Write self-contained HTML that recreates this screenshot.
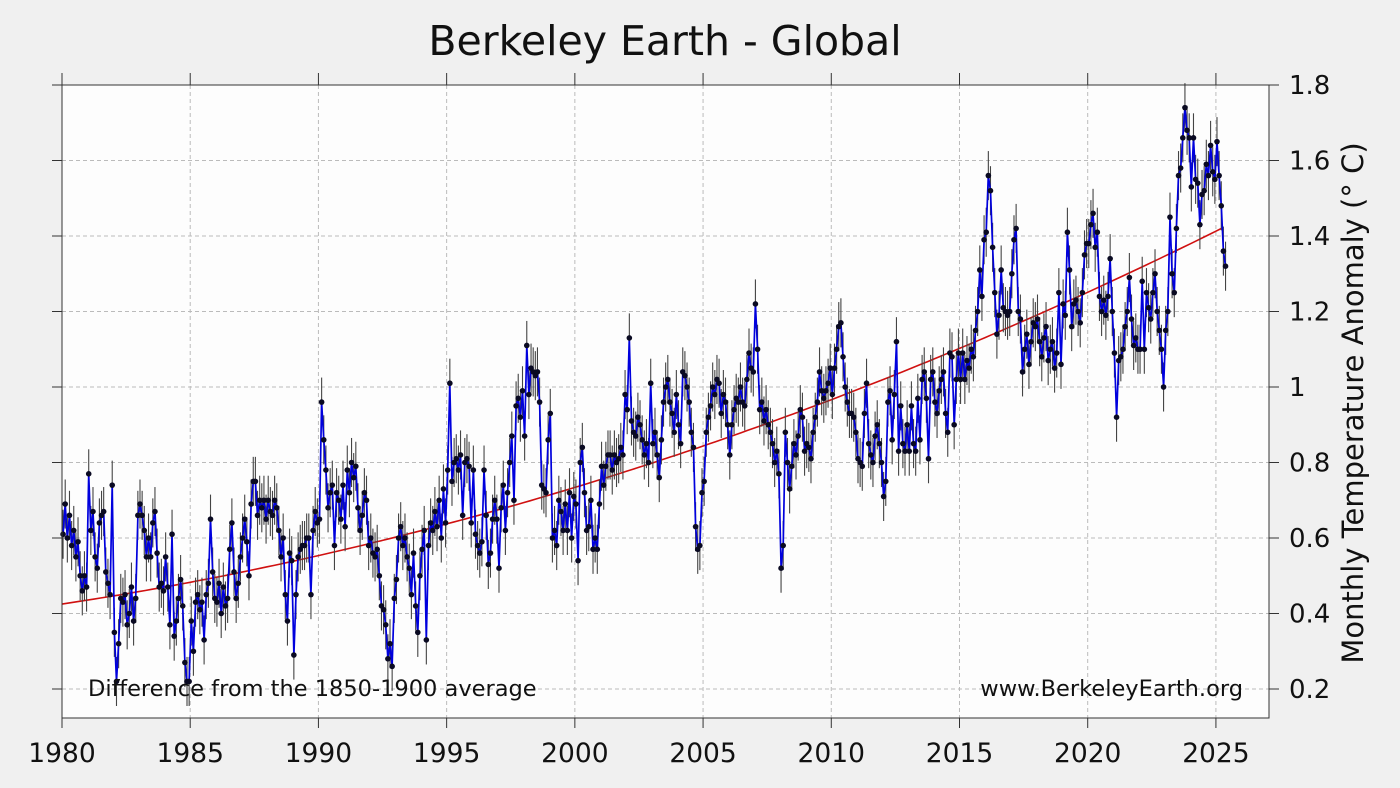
<!DOCTYPE html>
<html><head><meta charset="utf-8"><style>
html,body{margin:0;padding:0;background:#f0f0f0;}
svg{display:block;font-family:"DejaVu Sans","Liberation Sans",sans-serif;}
</style></head><body>
<svg id="chart" width="1400" height="788" viewBox="0 0 1400 788">
<rect x="0" y="0" width="1400" height="788" fill="#f0f0f0"/>
<text x="665" y="55" text-anchor="middle" font-size="41" fill="#111">Berkeley Earth - Global</text>
<rect x="62" y="85" width="1207" height="633" fill="#fdfdfd"/>
<g id="grid"></g>
<g id="trend"></g>
<g id="errs"></g>
<g id="series"></g>
<g id="axes"></g>
<text x="88" y="696" font-size="22.5" fill="#111">Difference from the 1850-1900 average</text>
<text x="1243" y="696" font-size="22.5" fill="#111" text-anchor="end">www.BerkeleyEarth.org</text>
<text transform="translate(1363,403) rotate(-90)" text-anchor="middle" font-size="29" fill="#111">Monthly Temperature Anomaly (° C)</text>
</svg>
<script>
const startYear = 1980;
const yearlyValues = [
[0.61,0.69,0.60,0.66,0.58,0.62,0.55,0.59,0.50,0.46,0.50,0.47],
[0.77,0.62,0.67,0.55,0.52,0.64,0.66,0.67,0.51,0.48,0.45,0.74],
[0.35,0.22,0.32,0.44,0.43,0.45,0.37,0.40,0.47,0.38,0.44,0.66],
[0.69,0.66,0.62,0.55,0.60,0.55,0.64,0.67,0.56,0.47,0.48,0.46],
[0.55,0.47,0.37,0.61,0.34,0.38,0.44,0.49,0.42,0.27,0.22,0.22],
[0.38,0.30,0.43,0.45,0.41,0.43,0.33,0.45,0.48,0.65,0.51,0.44],
[0.43,0.48,0.40,0.47,0.42,0.44,0.57,0.64,0.51,0.44,0.48,0.55],
[0.60,0.65,0.59,0.50,0.69,0.75,0.75,0.66,0.70,0.68,0.70,0.65],
[0.70,0.67,0.66,0.70,0.68,0.62,0.55,0.60,0.45,0.38,0.56,0.54],
[0.29,0.45,0.55,0.57,0.58,0.58,0.60,0.60,0.45,0.62,0.67,0.64],
[0.65,0.96,0.86,0.78,0.68,0.72,0.74,0.58,0.72,0.70,0.65,0.74],
[0.63,0.78,0.72,0.80,0.76,0.79,0.68,0.62,0.66,0.72,0.70,0.58],
[0.60,0.56,0.55,0.57,0.50,0.42,0.41,0.37,0.28,0.32,0.26,0.44],
[0.49,0.60,0.63,0.58,0.60,0.55,0.52,0.45,0.56,0.42,0.35,0.50],
[0.57,0.62,0.33,0.58,0.64,0.62,0.67,0.63,0.70,0.60,0.73,0.64],
[0.78,1.01,0.75,0.80,0.81,0.78,0.82,0.66,0.80,0.81,0.79,0.64],
[0.78,0.61,0.58,0.56,0.59,0.78,0.66,0.53,0.56,0.65,0.70,0.65],
[0.52,0.68,0.74,0.62,0.72,0.80,0.87,0.70,0.95,0.97,0.92,0.99],
[0.87,1.11,0.98,1.05,1.04,1.03,1.04,0.96,0.74,0.73,0.72,0.86],
[0.93,0.60,0.62,0.58,0.70,0.67,0.62,0.69,0.62,0.72,0.60,0.71],
[0.69,0.54,0.80,0.84,0.72,0.62,0.63,0.70,0.57,0.60,0.57,0.69],
[0.79,0.74,0.79,0.82,0.82,0.78,0.82,0.80,0.81,0.84,0.82,0.98],
[0.94,1.13,0.91,0.88,0.87,0.92,0.90,0.86,0.82,0.85,0.80,1.01],
[0.85,0.88,0.82,0.76,0.86,0.96,1.00,1.02,0.96,0.93,0.88,0.98],
[0.90,0.85,1.04,1.03,1.00,0.96,0.88,0.84,0.63,0.57,0.58,0.72],
[0.75,0.88,0.92,0.95,1.00,0.98,1.02,1.01,0.93,0.98,0.96,0.90],
[0.82,0.90,0.94,0.97,0.96,1.00,0.96,0.95,1.02,1.09,1.05,1.04],
[1.22,1.10,0.94,0.96,0.91,0.94,0.90,0.88,0.85,0.80,0.83,0.77],
[0.52,0.58,0.88,0.80,0.73,0.79,0.85,0.82,0.87,0.94,0.92,0.83],
[0.85,0.84,0.81,0.88,0.92,0.96,1.04,0.99,0.97,0.99,1.01,1.05],
[0.98,1.05,1.10,1.16,1.17,1.08,1.00,0.96,0.93,0.93,0.92,0.88],
[0.81,0.80,0.79,0.93,1.01,0.85,0.82,0.80,0.87,0.90,0.85,0.80],
[0.71,0.75,0.96,0.99,0.86,0.98,1.12,0.83,0.95,0.85,0.83,0.90],
[0.83,0.95,0.85,0.83,0.97,0.86,1.02,1.04,0.97,0.81,1.02,1.04],
[0.96,0.93,0.99,1.02,1.04,0.93,0.88,1.09,1.08,0.90,1.02,1.09],
[1.02,1.09,1.02,1.07,1.05,1.10,1.08,1.15,1.20,1.31,1.24,1.39],
[1.41,1.56,1.52,1.37,1.25,1.14,1.19,1.31,1.21,1.20,1.19,1.20],
[1.30,1.39,1.42,1.20,1.18,1.04,1.10,1.14,1.06,1.12,1.17,1.16],
[1.18,1.12,1.08,1.13,1.16,1.07,1.10,1.12,1.05,1.09,1.25,1.06],
[1.22,1.19,1.41,1.31,1.16,1.22,1.23,1.20,1.17,1.25,1.35,1.38],
[1.38,1.43,1.46,1.37,1.41,1.24,1.20,1.23,1.19,1.24,1.34,1.20],
[1.09,0.92,1.07,1.08,1.10,1.16,1.20,1.29,1.18,1.11,1.13,1.10],
[1.10,1.28,1.10,1.25,1.21,1.18,1.25,1.30,1.20,1.15,1.10,1.00],
[1.15,1.20,1.45,1.30,1.25,1.42,1.56,1.58,1.66,1.74,1.68,1.66],
[1.53,1.66,1.55,1.54,1.43,1.51,1.52,1.59,1.56,1.64,1.57,1.55],
[1.65,1.56,1.48,1.36,1.32]
];
const uncertainty = [0.065];
const trendCoefficients = [0.425, 0.01025, 0.00026];
const xTicks = [1980,1985,1990,1995,2000,2005,2010,2015,2020,2025];
const yTicks = [0.2,0.4,0.6,0.8,1,1.2,1.4,1.6,1.8];
const yTickLabels = ["0.2","0.4","0.6","0.8","1","1.2","1.4","1.6","1.8"];

const NS="http://www.w3.org/2000/svg";
const L=62,R=1269,T=85,B=718;
const X0=1980,X1=2027.07,Y0=0.1232,Y1=1.8;
const sx=v=>L+(v-X0)/(X1-X0)*(R-L);
const sy=v=>B-(v-Y0)/(Y1-Y0)*(B-T);
function mk(tag,attrs,parent){const e=document.createElementNS(NS,tag);for(const k in attrs)e.setAttribute(k,attrs[k]);parent.appendChild(e);return e;}
const grid=document.getElementById('grid'),axes=document.getElementById('axes');
xTicks.forEach(t=>{
  const g=mk('line',{x1:sx(t),x2:sx(t),y1:T,y2:B,stroke:'#bbb','stroke-dasharray':'4,3','stroke-width':1},grid);
  
  
  const tk=mk('line',{x1:sx(t),x2:sx(t),y1:B,y2:B+10,stroke:'#333'},axes);
  
  
  const tt=mk('line',{x1:sx(t),x2:sx(t),y1:T-12,y2:T,stroke:'#333'},axes);
  
  
  const lb=mk('text',{x:sx(t),y:B+44,'text-anchor':'middle','font-size':26.5,fill:'#111'},axes);
  lb.textContent=t;
  
  
});
yTicks.forEach((t,i)=>{
  const g=mk('line',{x1:L,x2:R,y1:sy(t),y2:sy(t),stroke:'#bbb','stroke-dasharray':'4,3','stroke-width':1},grid);
  
  
  const tk=mk('line',{x1:L-10,x2:L,y1:sy(t),y2:sy(t),stroke:'#333'},axes);
  
  
  const tr=mk('line',{x1:R,x2:R+10,y1:sy(t),y2:sy(t),stroke:'#333'},axes);
  
  
  const lb=mk('text',{x:R+20,y:sy(t)+9,'font-size':26,fill:'#111'},axes);
  lb.textContent=yTickLabels[i];
  
  
});
const frame=mk('rect',{x:L,y:T,width:R-L,height:B-T,fill:'none',stroke:'#333','stroke-width':1},axes);



const pts=[];
yearlyValues.forEach((row,yi)=>row.forEach((v,m)=>pts.push([startYear+yi+(m+0.5)/12,v])));
let tp=[];
const tEnd=pts[pts.length-1][0];
for(let t=X0;t<=tEnd+0.001;t+=0.25){const d=t-X0;tp.push(sx(t).toFixed(1)+','+sy(trendCoefficients[0]+trendCoefficients[1]*d+trendCoefficients[2]*d*d).toFixed(1));}
const tl=mk('polyline',{points:tp.join(' '),fill:'none',stroke:'#d01010','stroke-width':1.6},document.getElementById('trend'));


const errs=document.getElementById('errs'),ser=document.getElementById('series');
pts.forEach(p=>{
  const e=mk('line',{x1:sx(p[0]),x2:sx(p[0]),y1:sy(p[1]-uncertainty[0]),y2:sy(p[1]+uncertainty[0]),stroke:'#444','stroke-width':1.1},errs);
  
  
});
const line=mk('polyline',{points:pts.map(p=>sx(p[0]).toFixed(1)+','+sy(p[1]).toFixed(1)).join(' '),fill:'none',stroke:'#0000dd','stroke-width':1.7},ser);


pts.forEach(p=>{
  const c=mk('circle',{cx:sx(p[0]),cy:sy(p[1]),r:2.8,fill:'#0a0a22'},ser);
  
  
});
</script>
</body></html>
